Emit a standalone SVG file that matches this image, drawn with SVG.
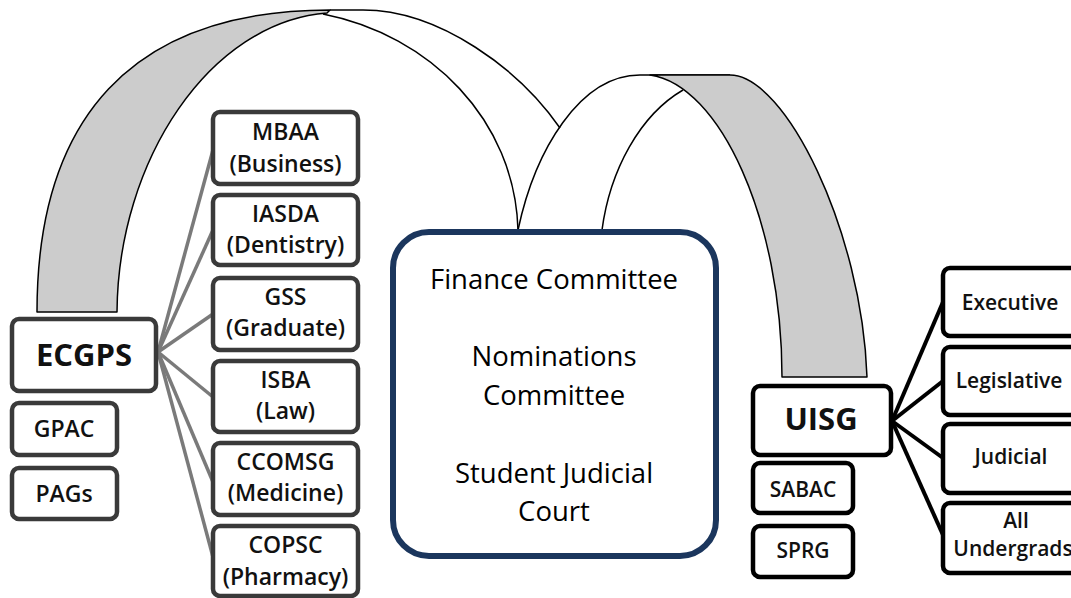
<svg xmlns="http://www.w3.org/2000/svg" width="1071" height="598" viewBox="0 0 1071 598">
<style>
.arc{fill:none;stroke:#000;stroke-width:1.5}
.band{fill:#cccccc;stroke:#000;stroke-width:1.5;stroke-linejoin:round}
.lg{stroke:#7a7a7a;stroke-width:3.5;fill:none}
.rg{stroke:#000;stroke-width:4;fill:none}
.bl{fill:#fff;stroke:#3a3a3a;stroke-width:4.5}
.br{fill:#fff;stroke:#000;stroke-width:4.5}
.t{font-family:"Open Sans","Noto Sans","Liberation Sans",sans-serif;text-anchor:middle;fill:#111}
.s{font-size:23px;font-weight:600}
.r{font-size:21px;font-weight:600}
.big{font-size:31px;font-weight:700}
.c{font-size:27.5px;font-weight:400;fill:#000}
</style>
<g id="connectors">
  <path class="band" d="M37,312 C37,120 130,10 330,10 L327,13 C210,22 118,160 117,312 Z"/>
  <path class="arc" d="M330,10 L363,10 C440,10 520,70 560,128"/>
  <path class="arc" d="M323,14 C430,35 515,120 518,230"/>
  <path class="arc" d="M518,230 C535,150 580,75 640,75 L730,75"/>
  <path class="band" d="M730,75 C785,75 862,230 867,377 L782,377 C782,220 720,85 650,75 Z"/>
  <path class="arc" d="M602,230 C610,170 640,115 683,90"/>
  <line class="lg" x1="158" y1="352" x2="213" y2="150"/>
  <line class="lg" x1="158" y1="352" x2="213" y2="230"/>
  <line class="lg" x1="158" y1="352" x2="213" y2="314"/>
  <line class="lg" x1="158" y1="352" x2="213" y2="397"/>
  <line class="lg" x1="158" y1="352" x2="213" y2="482"/>
  <line class="lg" x1="158" y1="352" x2="213" y2="557"/>
  <line class="rg" x1="892" y1="421" x2="943" y2="302"/>
  <line class="rg" x1="892" y1="421" x2="943" y2="381"/>
  <line class="rg" x1="892" y1="421" x2="943" y2="458"/>
  <line class="rg" x1="892" y1="421" x2="943" y2="535"/>
</g>
<g id="center">
  <rect x="393" y="232" width="323" height="324" rx="36" fill="#fff" stroke="#1b365d" stroke-width="6"/>
  <text class="t c" x="554" y="289">Finance Committee</text>
  <text class="t c" x="554" y="366">Nominations</text>
  <text class="t c" x="554" y="405">Committee</text>
  <text class="t c" x="554" y="483">Student Judicial</text>
  <text class="t c" x="554" y="521">Court</text>
</g>
<g id="ecgps">
  <rect class="bl" x="12" y="319" width="144" height="72" rx="7"/>
  <text class="t big" x="84" y="366">ECGPS</text>
</g>
<g id="gpac">
  <rect class="bl" x="12" y="403" width="105" height="52" rx="7"/>
  <text class="t s" x="64" y="437">GPAC</text>
</g>
<g id="pags">
  <rect class="bl" x="12" y="468" width="105" height="51" rx="7"/>
  <text class="t s" x="64" y="502">PAGs</text>
</g>
<g id="mbaa">
  <rect class="bl" x="213" y="112" width="145" height="72" rx="7"/>
  <text class="t s" x="285.5" y="140">MBAA</text>
  <text class="t s" x="285.5" y="172">(Business)</text>
</g>
<g id="iasda">
  <rect class="bl" x="213" y="195" width="145" height="70" rx="7"/>
  <text class="t s" x="285.5" y="222">IASDA</text>
  <text class="t s" x="285.5" y="253">(Dentistry)</text>
</g>
<g id="gss">
  <rect class="bl" x="213" y="278" width="145" height="72" rx="7"/>
  <text class="t s" x="285.5" y="305">GSS</text>
  <text class="t s" x="285.5" y="336">(Graduate)</text>
</g>
<g id="isba">
  <rect class="bl" x="213" y="361" width="145" height="71" rx="7"/>
  <text class="t s" x="285.5" y="388">ISBA</text>
  <text class="t s" x="285.5" y="419">(Law)</text>
</g>
<g id="ccomsg">
  <rect class="bl" x="213" y="443" width="145" height="72" rx="7"/>
  <text class="t s" x="285.5" y="470">CCOMSG</text>
  <text class="t s" x="285.5" y="501">(Medicine)</text>
</g>
<g id="copsc">
  <rect class="bl" x="213" y="526" width="145" height="70" rx="7"/>
  <text class="t s" x="285.5" y="553">COPSC</text>
  <text class="t s" x="285.5" y="585">(Pharmacy)</text>
</g>
<g id="uisg">
  <rect class="br" x="753" y="386" width="138" height="69" rx="7"/>
  <text class="t big" x="821" y="430">UISG</text>
</g>
<g id="sabac">
  <rect class="br" x="753" y="463" width="100" height="50" rx="7"/>
  <text class="t r" x="803" y="497">SABAC</text>
</g>
<g id="sprg">
  <rect class="br" x="753" y="526" width="100" height="51" rx="7"/>
  <text class="t r" x="803" y="558">SPRG</text>
</g>
<g id="executive">
  <rect class="br" x="943" y="268" width="140" height="68" rx="7"/>
  <text class="t r" x="1010" y="310">Executive</text>
</g>
<g id="legislative">
  <rect class="br" x="943" y="347" width="140" height="68" rx="7"/>
  <text class="t r" x="1009" y="388">Legislative</text>
</g>
<g id="judicial">
  <rect class="br" x="943" y="424" width="140" height="69" rx="7"/>
  <text class="t r" x="1011" y="464">Judicial</text>
</g>
<g id="allundergrads">
  <rect class="br" x="943" y="503" width="140" height="70" rx="7"/>
  <text class="t r" x="1016" y="528">All</text>
  <text class="t r" x="1013" y="556">Undergrads</text>
</g>
</svg>
